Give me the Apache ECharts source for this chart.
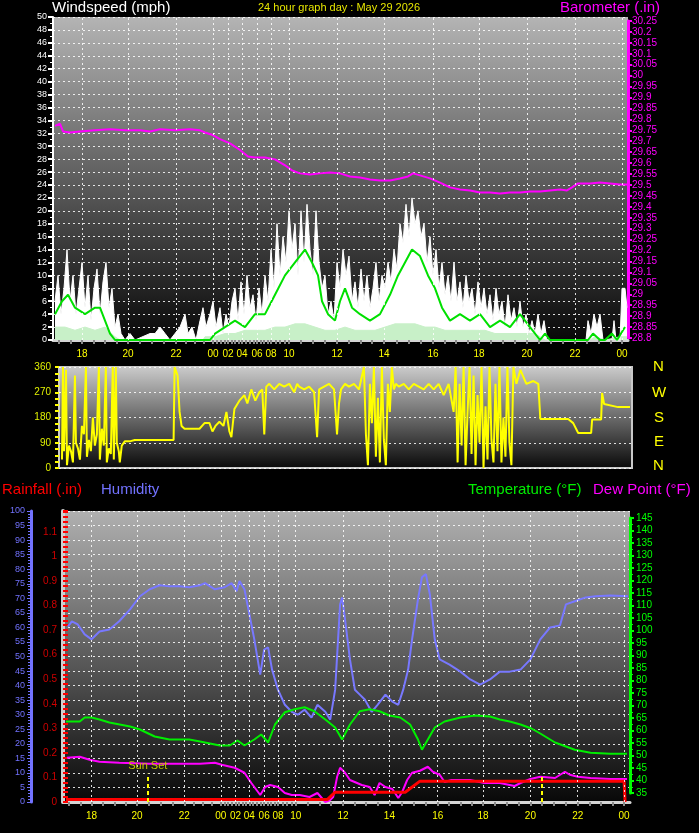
<!DOCTYPE html>
<html>
<head>
<meta charset="utf-8">
<script src="https://cdn.jsdelivr.net/npm/echarts@6/dist/echarts.min.js"></script>
<style>
html, body { margin: 0; padding: 0; background: #000; }
#main { width: 699px; height: 833px; }
</style>
</head>
<body>
<div id="main"></div>
<script>
// x is a sample-position scale (data is not evenly spaced in time)
const xTickPos = [29, 75, 123, 160, 175, 189, 204, 218, 236, 284, 331, 380, 426, 474, 522, 569]
const xTickLabels = ['18', '20', '22', '00', '02', '04', '06', '08', '10', '12', '14', '16', '18', '20', '22', '00']

// windspeed panel
const gust = [[2,6],[5,10],[8,4],[11,8],[14,14],[17,6],[20,10],[23,4],[26,8],[29,12],[32,5],[35,10],[38,3],[41,8],[44,11],[47,4],[50,9],[53,12],[56,5],[59,8],[62,2],[65,4],[68,1],[72,0],[77,1],[82,0],[97,1],[102,1],[107,2],[112,1],[117,0],[122,1],[127,2],[132,4],[135,1],[139,2],[143,0],[147,3],[150,5],[153,2],[157,4],[160,6],[163,2],[167,5],[170,1],[173,4],[176,2],[179,6],[182,8],[185,3],[188,9],[191,4],[194,10],[197,5],[200,7],[203,3],[206,8],[209,4],[212,10],[215,6],[218,14],[221,8],[224,18],[227,10],[230,16],[233,12],[236,20],[239,14],[242,18],[245,10],[248,20],[251,12],[254,21],[257,14],[260,10],[263,20],[266,12],[269,8],[272,10],[275,4],[278,6],[281,3],[284,12],[287,8],[290,14],[293,10],[296,13],[299,6],[302,9],[305,5],[308,11],[311,6],[314,10],[317,5],[320,8],[323,12],[326,6],[329,10],[332,8],[335,12],[338,9],[341,14],[344,11],[347,18],[350,15],[353,21],[356,16],[359,22],[362,18],[365,20],[368,16],[371,18],[374,12],[377,16],[380,10],[383,14],[386,8],[389,12],[392,7],[395,10],[398,6],[401,12],[404,6],[407,9],[410,5],[413,10],[416,6],[419,8],[422,4],[425,9],[428,5],[431,8],[434,4],[437,7],[440,3],[443,8],[446,4],[449,6],[452,2],[455,7],[458,3],[461,5],[464,2],[467,6],[470,2],[473,4],[476,1],[479,3],[482,1],[485,4],[488,1],[491,3],[494,0],[533,0],[535,3],[538,1],[541,4],[544,2],[547,4],[550,0],[559,0],[561,3],[563,0],[567,0],[569,8],[572,8],[574,5]]
const windAvg = [[2,2],[12,2],[22,1.5],[32,2],[42,1.5],[52,2],[62,0.5],[67,0],[150,0],[152,0.5],[162,0.5],[172,1],[182,1],[192,1.5],[202,1.5],[212,1.5],[222,2],[232,2],[242,2.5],[252,2.5],[262,2],[272,1.5],[282,1.5],[292,2],[302,1.5],[312,1.5],[322,1.5],[332,2],[342,2.5],[352,2.5],[362,2.5],[372,2],[382,2],[392,1.5],[402,1.5],[412,1.5],[422,1.5],[432,1.5],[442,1],[452,1],[462,1],[472,1],[482,1],[492,0],[537,0],[542,0.5],[552,0],[567,0.5],[574,0.5]]
const windLine = [[2,4],[9,6],[15,7],[22,5],[32,4],[42,5],[47,5],[52,3],[57,1],[62,0],[67,0],[157,0],[162,1],[172,2],[182,3],[192,2],[202,4],[212,4],[222,7],[232,10],[242,12],[252,14],[259,12],[265,10],[269,6],[275,4],[282,3],[287,6],[292,8],[299,5],[307,4],[317,3],[327,4],[337,7],[345,10],[352,12],[359,14],[367,13],[375,10],[382,8],[389,5],[397,3],[407,4],[417,3],[427,4],[437,2],[447,3],[457,2],[467,4],[477,2],[487,0],[492,1],[497,0],[535,0],[540,1],[547,0],[552,0],[559,1],[564,0],[572,2]]
const barometer = [[2,29.77],[7,29.78],[10,29.745],[17,29.74],[27,29.745],[42,29.75],[57,29.755],[72,29.75],[87,29.75],[97,29.745],[107,29.755],[122,29.75],[137,29.755],[147,29.75],[152,29.74],[159,29.73],[167,29.71],[177,29.69],[187,29.66],[195,29.63],[202,29.626],[212,29.626],[222,29.617],[232,29.59],[239,29.567],[247,29.553],[257,29.548],[267,29.553],[277,29.557],[287,29.553],[297,29.539],[307,29.534],[317,29.525],[327,29.52],[337,29.52],[347,29.53],[355,29.539],[360,29.553],[367,29.544],[377,29.53],[387,29.511],[397,29.489],[407,29.479],[417,29.475],[427,29.466],[437,29.466],[447,29.461],[457,29.466],[467,29.466],[477,29.47],[487,29.47],[497,29.475],[507,29.479],[514,29.475],[519,29.489],[525,29.507],[537,29.507],[547,29.511],[557,29.507],[567,29.502],[574,29.502]]

// wind direction panel
const windDir = [[3,30],[4,360],[5,60],[7,350],[8,10],[10,80],[12,60],[14,20],[16,330],[17,90],[19,70],[21,30],[23,150],[25,120],[27,360],[28,40],[30,100],[32,60],[34,180],[36,80],[38,120],[40,360],[41,30],[43,140],[45,80],[47,360],[48,20],[50,70],[52,50],[54,360],[55,30],[57,360],[58,90],[60,60],[61,20],[63,80],[66,95],[71,95],[76,100],[91,100],[111,100],[115,100],[116,360],[118,360],[119,330],[121,200],[123,150],[126,140],[141,140],[146,160],[151,160],[154,130],[157,150],[161,165],[165,150],[168,200],[171,130],[173,110],[176,210],[181,240],[186,260],[189,230],[193,280],[197,240],[201,270],[204,280],[206,120],[208,290],[211,300],[216,280],[221,300],[226,290],[231,300],[236,270],[239,300],[241,290],[246,280],[251,290],[256,270],[259,110],[261,280],[266,290],[271,300],[276,280],[279,120],[281,230],[283,280],[287,300],[291,290],[296,300],[301,280],[306,360],[308,120],[310,10],[312,300],[314,160],[316,360],[318,40],[320,250],[322,20],[324,360],[326,100],[328,10],[330,300],[332,200],[334,360],[336,280],[338,300],[341,290],[346,300],[351,280],[356,300],[361,290],[366,280],[371,300],[376,280],[381,300],[386,260],[391,300],[396,200],[398,360],[400,20],[402,300],[404,80],[406,360],[408,10],[410,200],[412,360],[414,50],[416,330],[418,10],[420,260],[422,90],[424,360],[426,0],[428,220],[430,30],[432,360],[434,100],[436,20],[438,300],[440,60],[442,360],[444,20],[446,180],[448,40],[450,360],[452,90],[454,10],[456,360],[459,300],[463,350],[469,300],[476,310],[481,300],[483,175],[491,175],[501,175],[511,175],[516,160],[521,125],[534,125],[535,173],[544,173],[545,268],[547,228],[561,217],[573,217]]

// rain / humidity / temperature panel
const humidity = [[5,60.3],[9,62.1],[15,61],[22,57.6],[29,55.9],[37,58.6],[47,59.3],[57,62.1],[68,66.2],[78,70.7],[88,73.1],[98,74.5],[108,74.1],[118,74.1],[128,73.8],[139,74.5],[144,75.2],[154,73.1],[164,73.8],[171,75.2],[176,72.4],[179,75.9],[184,73.1],[189,64.5],[194,55.9],[200,43.8],[204,52.4],[208,53.1],[212,45.5],[218,38.6],[225,33.4],[232,31],[238,30],[245,31.7],[252,29],[258,33.4],[266,31],[271,28.3],[276,38.6],[281,67.9],[283,70.3],[286,62.8],[291,49],[296,38.6],[301,36.9],[306,35.2],[313,31],[319,33.4],[327,36.9],[334,34.5],[340,33.4],[345,38.6],[350,45.5],[354,55.9],[360,69.7],[364,77.2],[368,78.3],[372,71.4],[377,55.9],[382,49],[392,47.2],[403,44.8],[413,42.1],[423,40.3],[433,42.1],[443,44.8],[453,44.8],[464,45.5],[474,49],[484,55.9],[494,60],[504,60.7],[510,67.9],[519,69],[530,70.3],[540,70.7],[555,71],[573,70.7]]
const temperature = [[3,63.6],[17,63.6],[22,65.2],[29,65.2],[37,64.4],[47,63.2],[68,61.6],[78,60.4],[93,57.6],[108,56.4],[128,56.4],[139,55.6],[149,54.8],[159,54],[169,54],[177,56],[184,54],[194,56.4],[201,58.4],[208,55.2],[215,62.4],[225,67.3],[235,68.5],[245,69.3],[255,67.7],[266,64.4],[276,61.2],[283,56.4],[291,62.4],[301,67.7],[311,68.5],[321,67.7],[331,66],[342,65.2],[352,62.4],[360,56.4],[364,52.3],[370,56.4],[377,61.2],[387,63.6],[403,65.2],[418,66],[433,65.6],[443,64.4],[453,63.6],[464,62.4],[475,60.8],[484,58.8],[499,55.2],[519,52.3],[535,51.1],[555,50.7],[572,50.7]]
const dewPoint = [[4,49.1],[17,49.5],[27,48.3],[37,47.5],[57,47.1],[88,46.7],[139,46.7],[154,47.1],[161,46.3],[174,45.1],[184,43.1],[191,39],[200,34.2],[205,37.4],[210,38.2],[218,37.4],[225,35],[232,34.2],[240,34.2],[250,33.4],[258,35],[266,31.4],[271,32.2],[274,33.4],[278,41.5],[281,45.1],[286,43.1],[291,40.2],[303,38.2],[311,37.4],[316,34.2],[321,39],[327,37.4],[334,36.6],[340,33],[344,35.4],[349,40.2],[354,43.1],[362,43.9],[370,45.5],[375,43.5],[382,42.3],[387,39.4],[394,40.2],[413,40.2],[427,39],[443,39],[458,37.8],[464,39],[474,40.6],[484,41.5],[499,41],[509,43.5],[514,42.3],[522,41.5],[535,41],[555,40.6],[572,40.6]]
const rain = [[3,0.01],[268,0.01],[276,0.04],[347,0.04],[362,0.085],[569,0.085],[570,0]]
const sunSet = [86, 485]

const chart = echarts.init(document.getElementById('main'))
const FONT = 'Liberation Sans'

// small ticks: 4 per labelled interval
const minorPos = []
for (let i = 0; i < xTickPos.length - 1; i++) {
  const step = (xTickPos[i + 1] - xTickPos[i]) / 4
  for (let k = 1; k < 4; k++) minorPos.push(+(xTickPos[i] + k * step).toFixed(2))
}
for (let p = xTickPos[0] - 11.5; p > 0; p -= 11.5) minorPos.push(p)

function bg(top) {
  return new echarts.graphic.LinearGradient(0, 0, 0, 1, [
    { offset: 0, color: top },
    { offset: 1, color: '#080808' }
  ])
}

const dotted = { color: 'rgba(255,255,255,0.85)', type: [2, 3], width: 1 }

function timeAxis(grid) {
  return {
    type: 'value', gridIndex: grid, min: 0, max: 575, position: 'bottom',
    axisLine: { show: true, onZero: false, lineStyle: { color: '#d4d4d4', width: 3 } },
    axisTick: { show: true, customValues: xTickPos, length: 4, lineStyle: { color: '#8a8a8a', width: 2 } },
    axisLabel: {
      customValues: xTickPos, color: '#ffff00', fontSize: 10, fontFamily: FONT, margin: 9,
      formatter: v => xTickLabels[xTickPos.indexOf(v)]
    },
    splitLine: { show: false }
  }
}
function minorAxis(grid) {
  return {
    type: 'value', gridIndex: grid, min: 0, max: 575, position: 'bottom',
    axisLine: { show: false, onZero: false },
    axisTick: { show: true, customValues: minorPos, length: 4, lineStyle: { color: '#8a8a8a', width: 2 } },
    axisLabel: { show: false },
    splitLine: { show: false }
  }
}
function hiddenX(grid) {
  return { type: 'value', gridIndex: grid, min: 0, max: 575, show: false }
}
// vertical dotted grid lines at the labelled times
function timeLines(xIdx, yIdx) {
  return {
    type: 'line', xAxisIndex: xIdx, yAxisIndex: yIdx, data: [], silent: true,
    markLine: {
      symbol: 'none', silent: true, label: { show: false },
      lineStyle: dotted,
      data: xTickPos.map(x => ({ xAxis: x }))
    }
  }
}

function txt(text, left, top, color, size) {
  return { type: 'text', left, top, style: { text, fill: color, font: (size || 15) + 'px ' + FONT } }
}

const option = {
  backgroundColor: '#000',
  animation: false,
  grid: [
    { left: 53, right: 71, top: 17, height: 323, show: true, backgroundColor: bg('#b4b4b4'), borderWidth: 0 },
    { left: 53, right: 71, top: 21, height: 317 },
    { left: 59, right: 67, top: 367, height: 101, show: true, backgroundColor: bg('#cccccc'), borderColor: '#c8c8c8', borderWidth: 2 },
    { left: 63, right: 69, top: 511, height: 291, show: true, backgroundColor: bg('#b0b0b0'), borderWidth: 0 },
    { left: 63, right: 69, top: 518, height: 275 }
  ],
  xAxis: [timeAxis(0), minorAxis(0), hiddenX(1), hiddenX(2), timeAxis(3), minorAxis(3), hiddenX(4)],
  yAxis: [
    {
      type: 'value', gridIndex: 0, min: 0, max: 50, interval: 2,
      axisLine: { show: true, onZero: false, lineStyle: { color: '#ffffff', width: 2 } },
      axisTick: { show: true, length: 5, lineStyle: { color: '#ffffff', width: 2 } },
      minorTick: { show: true, splitNumber: 2, length: 3, lineStyle: { color: '#ffffff', width: 1 } },
      axisLabel: { color: '#ffffff', fontSize: 9, fontFamily: FONT, margin: 6 },
      splitLine: { show: true, lineStyle: dotted }
    },
    {
      type: 'value', gridIndex: 1, position: 'right', min: 28.8, max: 30.25, interval: 0.05,
      axisLine: { show: true, onZero: false, lineStyle: { color: '#ff00ff', width: 3 } },
      axisTick: { show: true, length: 4, lineStyle: { color: '#ff00ff', width: 2 } },
      axisLabel: { color: '#ff00ff', fontSize: 10, fontFamily: FONT, margin: 4 },
      splitLine: { show: false }
    },
    {
      type: 'value', gridIndex: 2, min: 0, max: 360, interval: 90,
      axisLine: { show: false, onZero: false },
      axisTick: { show: true, length: 4, lineStyle: { color: '#ffff00', width: 2 } },
      minorTick: { show: true, splitNumber: 4, length: 4, lineStyle: { color: '#ffff00', width: 2 } },
      axisLabel: { color: '#e0f000', fontSize: 10, fontFamily: FONT, margin: 8 },
      splitLine: { show: true, lineStyle: dotted }
    },
    {
      type: 'value', gridIndex: 3, position: 'left', offset: 32, min: 0, max: 100, interval: 5,
      axisLine: { show: true, onZero: false, lineStyle: { color: '#7272ff', width: 3 } },
      axisTick: { show: true, length: 4, lineStyle: { color: '#7272ff', width: 1 } },
      minorTick: { show: true, splitNumber: 5, length: 3, lineStyle: { color: '#7272ff', width: 1 } },
      axisLabel: { color: '#7272ff', fontSize: 9, fontFamily: FONT, margin: 6 },
      splitLine: { show: true, lineStyle: dotted }
    },
    {
      type: 'value', gridIndex: 3, position: 'left', min: 0, max: 1.185, interval: 0.1,
      axisLine: { show: true, onZero: false, lineStyle: { color: '#cfcfcf', width: 4 } },
      axisTick: { show: true, inside: true, length: 5, lineStyle: { color: '#ff0000', width: 2 } },
      minorTick: { show: true, splitNumber: 5, length: 5, lineStyle: { color: '#ff0000', width: 2 } },
      axisLabel: { color: '#d00000', fontSize: 10, fontFamily: FONT, margin: 6, showMaxLabel: false },
      splitLine: { show: false }
    },
    {
      type: 'value', gridIndex: 4, position: 'right', min: 35, max: 145, interval: 5,
      axisLine: { show: true, onZero: false, lineStyle: { color: '#00ff00', width: 3 } },
      axisTick: { show: true, length: 4, lineStyle: { color: '#00ff00', width: 2 } },
      minorTick: { show: true, splitNumber: 2, length: 3, lineStyle: { color: '#00ff00', width: 1 } },
      axisLabel: { color: '#00ff00', fontSize: 10, fontFamily: FONT, margin: 6 },
      splitLine: { show: false }
    }
  ],
  graphic: [
    txt('Windspeed (mph)', 52, 0, '#ffffff'),
    { type: 'text', left: 258, top: 2, style: { text: '24 hour graph day : May 29 2026', fill: '#e6e600', font: '11px ' + FONT } },
    txt('Barometer (.in)', 560, 0, '#ff00ff'),
    txt('N', 653, 359, '#ffff00'),
    txt('W', 652, 385, '#ffff00'),
    txt('S', 654, 410, '#ffff00'),
    txt('E', 654, 434, '#ffff00'),
    txt('N', 653, 458, '#ffff00'),
    txt('Rainfall (.in)', 2, 482, '#ff0000'),
    txt('Humidity', 101, 482, '#7272ff'),
    txt('Temperature (°F)', 468, 482, '#00ee00'),
    txt('Dew Point (°F)', 593, 482, '#ff00ff')
  ],
  series: [
    timeLines(0, 0),
    timeLines(4, 3),
    {
      name: 'Gust', type: 'line', xAxisIndex: 0, yAxisIndex: 0, data: gust, symbol: 'none',
      lineStyle: { color: '#ffffff', width: 1 }, areaStyle: { color: '#ffffff', opacity: 1 }
    },
    {
      name: 'Wind', type: 'line', xAxisIndex: 0, yAxisIndex: 0, data: windAvg, symbol: 'none',
      lineStyle: { color: '#c8f0c8', width: 1 }, areaStyle: { color: '#c8f0c8', opacity: 1 }
    },
    {
      name: 'Wind avg', type: 'line', xAxisIndex: 0, yAxisIndex: 0, data: windLine, symbol: 'none',
      lineStyle: { color: '#00e000', width: 2 }
    },
    {
      name: 'Barometer', type: 'line', xAxisIndex: 2, yAxisIndex: 1, data: barometer, symbol: 'none',
      lineStyle: { color: '#ff00ff', width: 2 }
    },
    {
      name: 'Direction', type: 'line', xAxisIndex: 3, yAxisIndex: 2, data: windDir, symbol: 'none',
      lineStyle: { color: '#ffff00', width: 2 }
    },
    {
      name: 'Humidity', type: 'line', xAxisIndex: 4, yAxisIndex: 3, data: humidity, symbol: 'none',
      lineStyle: { color: '#7878ff', width: 2 }
    },
    {
      name: 'Temperature', type: 'line', xAxisIndex: 6, yAxisIndex: 5, data: temperature, symbol: 'none', clip: false,
      lineStyle: { color: '#00ee00', width: 2 }
    },
    {
      name: 'Dew Point', type: 'line', xAxisIndex: 6, yAxisIndex: 5, data: dewPoint, symbol: 'none', clip: false,
      lineStyle: { color: '#ff00ff', width: 2 }
    },
    {
      name: 'Rain', type: 'line', xAxisIndex: 4, yAxisIndex: 4, data: rain, symbol: 'none',
      lineStyle: { color: '#ff0000', width: 3 },
      markLine: {
        symbol: 'none', silent: true,
        lineStyle: { color: '#ffff00', type: [4, 3], width: 2 },
        label: { show: false },
        data: [
          [{ coord: [sunSet[0], 0], label: { show: true, formatter: 'Sun Set', position: 'end', color: '#c8c800', fontSize: 11, fontFamily: FONT, distance: 2 } }, { coord: [sunSet[0], 0.115] }],
          [{ coord: [sunSet[1], 0] }, { coord: [sunSet[1], 0.105] }]
        ]
      }
    }
  ]
}

chart.setOption(option)
</script>
</body>
</html>
